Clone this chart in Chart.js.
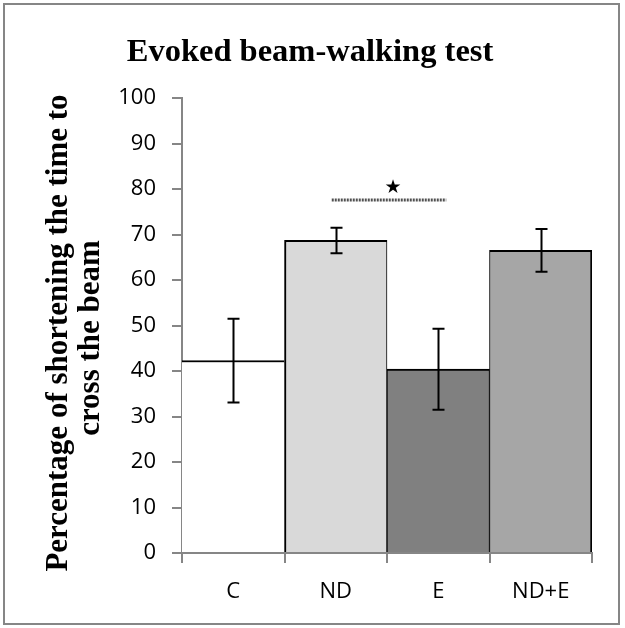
<!DOCTYPE html>
<html>
<head>
<meta charset="utf-8">
<script src="https://cdn.jsdelivr.net/npm/chart.js@4"></script>
<style>
  html, body { margin: 0; padding: 0; background: #fff; }
</style>
</head>
<body>
<canvas id="myChart" width="625" height="628"></canvas>
<script>
// chart values
const categories = ['C', 'ND', 'E', 'ND+E'];
const means = [42.3, 68.7, 40.4, 66.5];
const errors = [9.2, 2.8, 8.9, 4.7];
const barColors = ['#ffffff', '#d9d9d9', '#808080', '#a6a6a6'];
const sigPair = ['ND', 'E'];   // bars joined by the significance line
const sigLevel = 77.6;          // height of that line, in axis units
const titleText = 'Evoked beam-walking test';
const yTitleLines = ['Percentage of shortening the time to', 'cross the beam'];

const axisGray = '#868686';

// error bars + significance line + titles + frame
const extras = {
  id: 'extras',
  afterDatasetsDraw(chart) {
    const { ctx, scales: { x, y } } = chart;
    ctx.save();
    ctx.strokeStyle = '#000';
    ctx.lineWidth = 2;
    means.forEach((m, i) => {
      const px = Math.round(x.getPixelForValue(i)) + 0.5;
      const top = y.getPixelForValue(m + errors[i]);
      const bot = y.getPixelForValue(m - errors[i]);
      ctx.beginPath();
      ctx.moveTo(px, top); ctx.lineTo(px, bot);
      ctx.moveTo(px - 6, top); ctx.lineTo(px + 6, top);
      ctx.moveTo(px - 6, bot); ctx.lineTo(px + 6, bot);
      ctx.stroke();
    });

    // significance bar
    const x1 = x.getPixelForValue(categories.indexOf(sigPair[0])) - 4;
    const x2 = x.getPixelForValue(categories.indexOf(sigPair[1])) + 8;
    const sy = y.getPixelForValue(sigLevel);
    ctx.strokeStyle = '#505050';
    ctx.lineWidth = 3;
    ctx.setLineDash([2, 1]);
    ctx.beginPath();
    ctx.moveTo(x1, sy); ctx.lineTo(x2, sy);
    ctx.stroke();
    ctx.setLineDash([]);
    ctx.fillStyle = '#000';
    ctx.font = '19px "DejaVu Sans"';
    ctx.textAlign = 'center';
    ctx.textBaseline = 'middle';
    ctx.fillText('\u2605', (x1 + x2) / 2 + 4, sy - 12);
    ctx.restore();
  },
  afterDraw(chart) {
    const { ctx } = chart;
    ctx.save();
    ctx.fillStyle = '#000';
    ctx.textAlign = 'center';
    ctx.textBaseline = 'alphabetic';

    // chart title
    ctx.font = 'bold 32.5px "Liberation Serif"';
    ctx.fillText(titleText, 310, 61);

    // rotated y axis title, two lines
    ctx.font = 'bold 31px "Liberation Serif"';
    const pos = [[67, 333], [99, 338]];
    yTitleLines.forEach((t, i) => {
      ctx.save();
      ctx.translate(pos[i][0], pos[i][1]);
      ctx.rotate(-Math.PI / 2);
      ctx.fillText(t, 0, 0);
      ctx.restore();
    });

    // outer frame
    ctx.strokeStyle = axisGray;
    ctx.lineWidth = 2;
    ctx.strokeRect(4, 4, 615, 620);
    ctx.restore();
  }
};

const ctx = document.getElementById('myChart').getContext('2d');

const myChart = new Chart(ctx, {
  type: 'bar',
  data: {
    labels: categories,
    datasets: [{
      data: means,
      backgroundColor: barColors,
      borderColor: '#000',
      borderWidth: (c) => {
        const i = c.dataIndex;
        if (i === 0) return { top: 2, left: 0, right: 0, bottom: 0 };
        if (i === 1) return { top: 2, left: 2, right: 1, bottom: 0 };
        if (i === categories.length - 1) return { top: 2, left: 1, right: 2, bottom: 0 };
        return { top: 2, left: 1, right: 1, bottom: 0 };
      },
      borderSkipped: false,
      barPercentage: 1,
      categoryPercentage: 1
    }]
  },
  options: {
    responsive: false,
    animation: false,
    layout: { padding: { left: 0, right: 33, top: 98, bottom: 0 } },
    plugins: {
      legend: { display: false },
      tooltip: { enabled: false },
      title: { display: false }
    },
    scales: {
      x: {
        z: 1,
        afterFit: (s) => { s.height = 75; },
        border: { color: axisGray, width: 2 },
        grid: {
          offset: true,
          drawOnChartArea: false,
          drawTicks: true,
          tickLength: 10,
          color: axisGray,
          lineWidth: 2
        },
        ticks: {
          color: '#000',
          padding: 16,
          font: { family: 'Open Sans', size: 22 }
        }
      },
      y: {
        z: 1,
        min: 0,
        max: 100,
        afterFit: (s) => { s.width = 182; },
        border: { color: axisGray, width: 2 },
        grid: {
          drawOnChartArea: false,
          drawTicks: true,
          tickLength: 10,
          color: axisGray,
          lineWidth: 2
        },
        ticks: {
          stepSize: 10,
          color: '#000',
          padding: 16,
          font: { family: 'Open Sans', size: 22 }
        }
      }
    }
  },
  plugins: [extras]
});
</script>
</body>
</html>
